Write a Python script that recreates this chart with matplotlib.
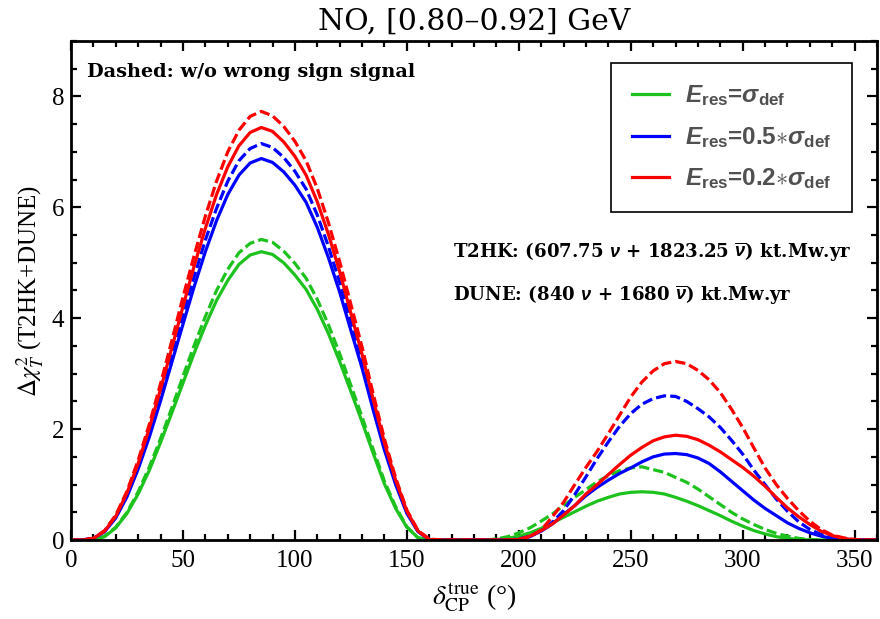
import numpy as np
import matplotlib
matplotlib.use("Agg")
import matplotlib.pyplot as plt
from matplotlib.lines import Line2D
from matplotlib.ticker import MultipleLocator

# delta_CP grid (deg), values every 5 deg
delta = np.arange(0, 361, 5)

# first lobe 0..165, second lobe values
red_dash = [0, 0, .03, .17, .45, .88, 1.44, 2.09, 2.82, 3.59, 4.38, 5.13, 5.84, 6.47, 7.00, 7.39, 7.64, 7.73,
            7.65, 7.46, 7.19, 6.84, 6.34, 5.72, 5.02, 4.25, 3.48, 2.63, 1.82, 1.12, .54, .17, .02, 0,
            0, 0, 0, 0, 0, 0,
            .01, .06, .18, .42, .68, 1.00, 1.31, 1.60, 1.92, 2.25, 2.58, 2.85, 3.05, 3.18, 3.22, 3.18,
            3.06, 2.89, 2.66, 2.36, 2.03, 1.66, 1.30, 1.00, .75, .53, .34, .19, .09, .04, .01,
            0, 0]
red_solid = [0, 0, .03, .16, .43, .85, 1.38, 2.02, 2.72, 3.46, 4.21, 4.94, 5.62, 6.23, 6.73, 7.11, 7.35, 7.44,
             7.37, 7.18, 6.92, 6.58, 6.10, 5.51, 4.84, 4.09, 3.35, 2.53, 1.75, 1.08, .52, .16, .01, 0,
             0, 0, 0, 0, 0, 0,
             .01, .07, .17, .29, .45, .62, .83, 1.00, 1.18, 1.36, 1.53, 1.67, 1.79, 1.86, 1.89, 1.87,
             1.81, 1.71, 1.59, 1.45, 1.31, 1.15, .97, .77, .58, .42, .28, .16, .08, .03, 0,
             0, 0]
blue_dash = [0, 0, .03, .16, .41, .82, 1.33, 1.94, 2.61, 3.32, 4.05, 4.75, 5.41, 5.98, 6.47, 6.84, 7.06, 7.15,
             7.08, 6.90, 6.65, 6.33, 5.86, 5.29, 4.65, 3.93, 3.22, 2.43, 1.68, 1.04, .50, .16, .01, 0,
             0, 0, 0, 0, 0, 0,
             .02, .07, .17, .32, .53, .82, 1.14, 1.47, 1.77, 2.05, 2.28, 2.45, 2.55, 2.60, 2.59, 2.50,
             2.37, 2.22, 2.03, 1.80, 1.55, 1.26, 1.00, .74, .52, .33, .19, .10, .05, .02, 0,
             0, 0]
blue_solid = [0, 0, .03, .15, .40, .78, 1.28, 1.86, 2.51, 3.20, 3.89, 4.57, 5.20, 5.76, 6.23, 6.58, 6.80, 6.88,
              6.81, 6.64, 6.40, 6.09, 5.64, 5.09, 4.47, 3.78, 3.10, 2.34, 1.62, 1.00, .48, .15, .01, 0,
              0, 0, 0, 0, 0, 0,
              .01, .06, .16, .29, .46, .62, .80, .95, 1.08, 1.20, 1.30, 1.41, 1.50, 1.55, 1.56, 1.54,
              1.48, 1.38, 1.23, 1.06, .89, .72, .57, .44, .31, .21, .13, .07, .03, .01, 0,
              0, 0]
green_dash = [0, 0, 0, .07, .23, .50, .87, 1.32, 1.83, 2.38, 2.95, 3.51, 4.03, 4.50, 4.88, 5.18, 5.35, 5.42,
              5.37, 5.21, 4.99, 4.72, 4.34, 3.88, 3.36, 2.79, 2.22, 1.63, 1.06, .60, .24, .04, 0, 0,
              0, 0, 0,
              0, .02, .06, .13, .22, .34, .47, .62, .77, .91, 1.05, 1.16, 1.25, 1.30, 1.32, 1.27,
              1.22, 1.13, 1.04, .92, .78, .64, .50, .38, .28, .19, .12, .07, .03, .01,
              0, 0, 0, 0, 0, 0]
green_solid = [0, 0, 0, .06, .22, .48, .83, 1.26, 1.76, 2.29, 2.83, 3.37, 3.87, 4.32, 4.68, 4.97, 5.14, 5.20,
               5.15, 5.00, 4.78, 4.52, 4.16, 3.72, 3.22, 2.68, 2.13, 1.56, 1.01, .57, .23, .04, 0, 0,
               0, 0, 0,
               0, .01, .03, .07, .13, .21, .31, .41, .51, .61, .70, .77, .83, .86, .87, .86,
               .83, .77, .70, .62, .53, .44, .34, .25, .17, .11, .06, .03, .01, 0,
               0, 0, 0, 0, 0, 0]

labels = [r"$\mathbfit{E}_{\mathbf{res}}$=$\mathbfit{\sigma}_{\mathbf{def}}$",
          r"$\mathbfit{E}_{\mathbf{res}}$=0.5$\mathbf{\ast}\mathbfit{\sigma}_{\mathbf{def}}$",
          r"$\mathbfit{E}_{\mathbf{res}}$=0.2$\mathbf{\ast}\mathbfit{\sigma}_{\mathbf{def}}$"]
colors = ["#1ec21e", "#0000ff", "#ff0000"]

plt.rcParams["font.family"] = "Liberation Serif"
plt.rcParams["mathtext.fontset"] = "custom"
plt.rcParams["mathtext.rm"] = "Liberation Sans"
plt.rcParams["mathtext.it"] = "Liberation Sans:italic"
plt.rcParams["mathtext.bf"] = "Liberation Sans:bold"
plt.rcParams["mathtext.bfit"] = "Liberation Sans:italic:bold"

fig = plt.figure(figsize=(8.8, 6.19), dpi=100)
ax = fig.add_axes([0.0807, 0.1276, 0.9159, 0.8062])

lw = 2.3
for solid, dash, c in [(green_solid, green_dash, colors[0]),
                       (blue_solid, blue_dash, colors[1]),
                       (red_solid, red_dash, colors[2])]:
    ax.plot(delta, solid, color=c, lw=lw)
    ax.plot(delta, dash, color=c, lw=lw, dashes=(3.2, 1.3))

ax.set_xlim(0, 360)
ax.set_ylim(0, 9)
ax.xaxis.set_major_locator(MultipleLocator(50))
ax.xaxis.set_minor_locator(MultipleLocator(10))
ax.yaxis.set_major_locator(MultipleLocator(2))
ax.yaxis.set_minor_locator(MultipleLocator(0.5))
ax.tick_params(which="both", direction="in", top=True, right=True, width=1.6, labelsize=18)
ax.tick_params(which="major", length=7)
ax.tick_params(axis="x", which="major", pad=7)
ax.tick_params(axis="y", which="major", pad=5)
ax.tick_params(which="minor", length=4)
for s in ax.spines.values():
    s.set_linewidth(2)

ax.set_title("NO, [0.80–0.92] GeV", fontsize=21.5, pad=8.5, family="DejaVu Serif")
ax.set_ylabel(r"$\Delta\chi^2_T$ (T2HK+DUNE)", fontsize=18, labelpad=4, math_fontfamily="stix")
ax.set_xlabel(r"$\delta_{\mathrm{CP}}^{\mathrm{true}}$ (°)", fontsize=20, labelpad=7, math_fontfamily="stix")

ax.text(0.02, 0.938, "Dashed: w/o wrong sign signal", transform=ax.transAxes,
        fontsize=13.9, fontweight="bold", va="center", family="DejaVu Serif")
ax.text(0.474, 0.579, r"T2HK: (607.75 $\mathbfit{\nu}$ + 1823.25 $\overline{\mathbfit{\nu}}$) kt.Mw.yr",
        transform=ax.transAxes, fontsize=13.1, fontweight="bold", va="center", family="DejaVu Serif")
ax.text(0.474, 0.491, r"DUNE: (840 $\mathbfit{\nu}$ + 1680 $\overline{\mathbfit{\nu}}$) kt.Mw.yr",
        transform=ax.transAxes, fontsize=13.1, fontweight="bold", va="center", family="DejaVu Serif")

handles = [Line2D([], [], color=c, lw=lw) for c in colors]
leg = ax.legend(handles, labels, loc="upper right", bbox_to_anchor=(0.969, 0.956), borderaxespad=0,
                fancybox=False, framealpha=1, edgecolor="black",
                prop={"family": "Liberation Sans", "weight": "bold", "size": 17.5},
                handlelength=1.55, handletextpad=0.65, labelspacing=0.68, borderpad=0.85)
leg.get_frame().set_linewidth(1.2)
for t in leg.get_texts():
    t.set_color("#505050")

plt.savefig("out.png", dpi=100)
